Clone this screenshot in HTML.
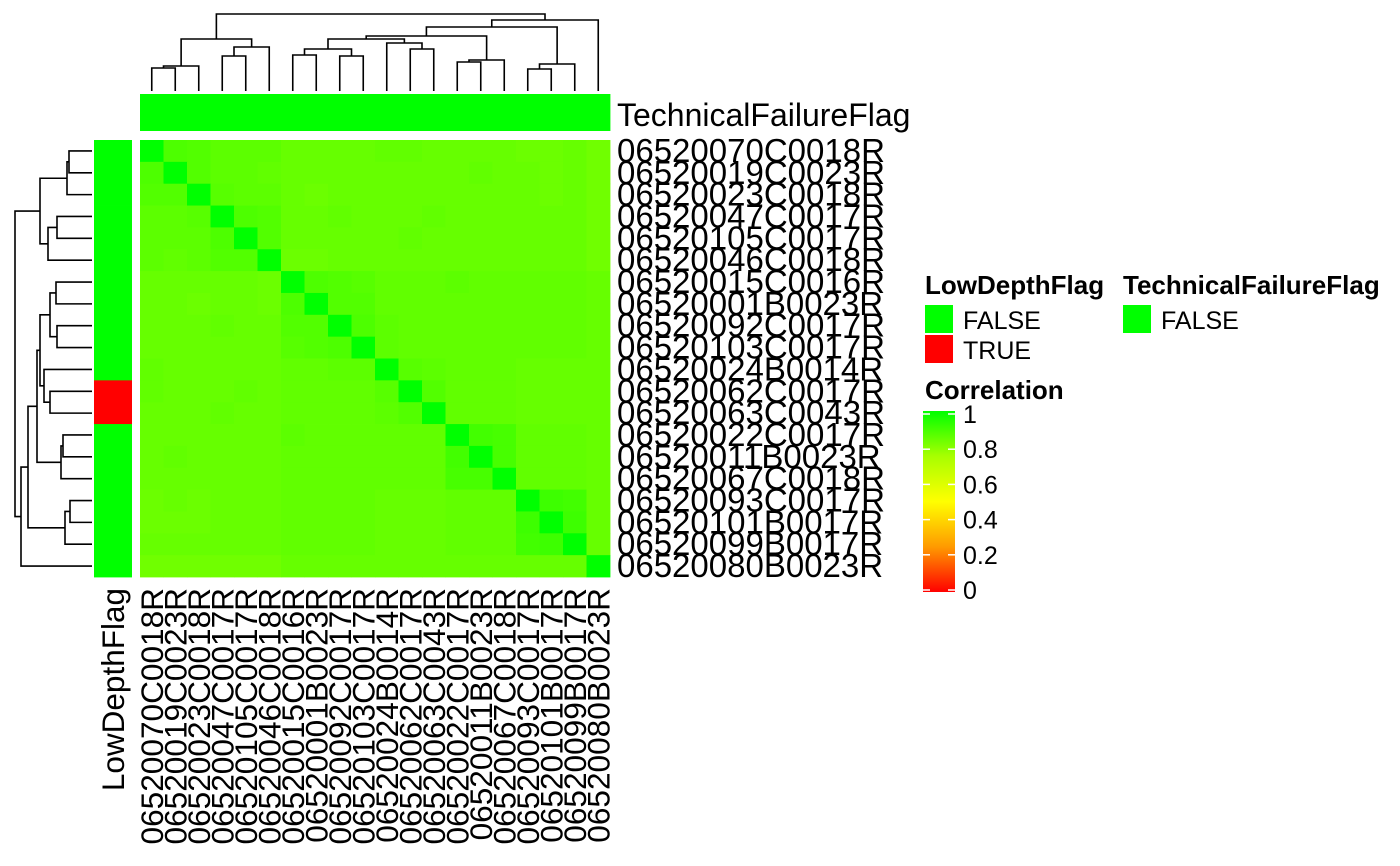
<!DOCTYPE html>
<html><head><meta charset="utf-8"><style>
html,body{margin:0;padding:0;background:#fff;}
svg{display:block;font-family:"Liberation Sans",Arial,sans-serif;}
</style></head><body>
<svg id="chart" width="1400" height="866" xmlns="http://www.w3.org/2000/svg">
<g id="cells"></g>
<g id="rowdend"></g>
<g id="coldend"></g>
<g id="annot"></g>
<g id="labels"></g>
<g id="legend">
  <text x="925" y="294" font-size="26" font-weight="bold">LowDepthFlag</text>
  <rect x="925" y="305" width="28" height="28" fill="#00ff00"/>
  <text x="963" y="329" font-size="25">FALSE</text>
  <rect x="925" y="335" width="28" height="28" fill="#ff0000"/>
  <text x="963" y="359" font-size="25">TRUE</text>
  <text x="1123" y="294" font-size="26" font-weight="bold">TechnicalFailureFlag</text>
  <rect x="1123" y="305" width="28" height="28" fill="#00ff00"/>
  <text x="1161" y="329" font-size="25">FALSE</text>
  <text x="925" y="399" font-size="26" font-weight="bold">Correlation</text>
  <defs><linearGradient id="cg" x1="0" y1="1" x2="0" y2="0">
    <stop offset="0" stop-color="#ff0000"/><stop offset="0.25" stop-color="#ff9a00"/>
    <stop offset="0.5" stop-color="#ffff00"/><stop offset="0.75" stop-color="#a8ff00"/>
    <stop offset="1" stop-color="#00ff00"/></linearGradient></defs>
  <rect x="923" y="411" width="32" height="181" fill="url(#cg)"/>
  <g id="cbticks"></g>
</g>
</svg>
<script>
const NS="http://www.w3.org/2000/svg";
const samples=["06520070C0018R","06520019C0023R","06520023C0018R","06520047C0017R","06520105C0017R","06520046C0018R","06520015C0016R","06520001B0023R","06520092C0017R","06520103C0017R","06520024B0014R","06520062C0017R","06520063C0043R","06520022C0017R","06520011B0023R","06520067C0018R","06520093C0017R","06520101B0017R","06520099B0017R","06520080B0023R"];
const lowDepth=[0,0,0,0,0,0,0,0,0,0,0,1,1,0,0,0,0,0,0,0];
const techFail=[0,0,0,0,0,0,0,0,0,0,0,0,0,0,0,0,0,0,0,0];
const corr=[
[100,85,84,82,82,82,80,80,80,80,81,81,80,80,80,80,79,79,80,78],
[85,100,84,82,82,81,80,80,80,80,80,80,80,80,81,80,80,79,80,78],
[84,84,100,83,82,82,80,79,80,80,80,80,80,80,80,80,80,79,80,78],
[82,82,83,100,85,84,80,80,81,80,80,80,81,80,80,80,80,80,80,78],
[82,82,82,85,100,84,80,80,80,80,80,81,80,80,80,80,80,80,80,78],
[82,81,82,84,84,100,79,79,80,80,80,80,80,80,80,80,80,80,80,78],
[80,80,80,80,80,79,100,85,84,83,81,81,81,82,81,81,81,81,81,80],
[80,80,79,80,80,79,85,100,84,84,81,81,81,81,81,81,81,81,81,80],
[80,80,80,81,80,80,84,84,100,85,82,81,81,81,81,81,81,81,81,80],
[80,80,80,80,80,80,83,84,85,100,82,81,81,81,81,81,81,81,81,80],
[81,80,80,80,80,80,81,81,82,82,100,83,82,81,81,81,80,80,80,80],
[81,80,80,80,81,80,81,81,81,81,83,100,84,81,81,81,80,80,80,80],
[80,80,80,81,80,80,81,81,81,81,82,84,100,81,81,81,80,80,80,80],
[80,80,80,80,80,80,82,81,81,81,81,81,81,100,87,86,81,81,81,80],
[80,81,80,80,80,80,81,81,81,81,81,81,81,87,100,86,81,81,81,80],
[80,80,80,80,80,80,81,81,81,81,81,81,81,86,86,100,81,81,81,80],
[79,80,79,80,80,80,81,81,81,81,80,80,80,81,81,81,100,88,87,80],
[79,79,79,80,80,80,81,81,81,81,80,80,80,81,81,81,88,100,88,80],
[80,80,80,80,80,80,81,81,81,81,80,80,80,81,81,81,87,88,100,80],
[78,78,78,78,78,78,80,80,80,80,80,80,80,80,80,80,80,80,80,100]];
const mergeLeft=[0,20,3,22,21,6,8,25,11,10,27,13,31,30,16,34,33,36,24];
const mergeRight=[1,2,4,5,23,7,9,26,12,28,29,14,15,32,17,18,35,19,37];
const mergeHeight=[23,25,35,44,52,36,35,42,42,48,52,29,31,55,22,27,64,71,77];
const cbTicks=[0,0.2,0.4,0.6,0.8,1];

const X0=140,X1=610,Y0=140,Y1=577,n=samples.length;
const cw=(X1-X0)/n,ch=(Y1-Y0)/n;
const xc=i=>X0+cw*(i+0.5), yc=i=>Y0+ch*(i+0.5);
function col(v){let r,g;if(v>=0.5){r=Math.round(510*(1-v));g=255;}else{r=255;g=Math.round(510*v);}return `rgb(${r},${g},0)`;}
function mk(tag,attrs,parent){const e=document.createElementNS(NS,tag);for(const k in attrs)e.setAttribute(k,attrs[k]);parent.appendChild(e);return e;}

const cells=document.getElementById('cells');
for(let i=0;i<n;i++)for(let j=0;j<n;j++){
  const r=mk('rect',{x:X0+cw*j,y:Y0+ch*i,width:cw+0.4,height:ch+0.4,fill:col(corr[i][j]/100)},cells);
  
  
}
const annot=document.getElementById('annot');
for(let j=0;j<n;j++){
  const r=mk('rect',{x:X0+cw*j,y:94,width:cw+0.4,height:37,fill:techFail[j]?'#ff0000':'#00ff00'},annot);
  
  
}
for(let i=0;i<n;i++){
  const r=mk('rect',{x:94,y:Y0+ch*i,width:38,height:ch+0.4,fill:lowDepth[i]?'#ff0000':'#00ff00'},annot);
  
  
}
function dend(g,horizontal){
  const leafEdge=horizontal?92:91;
  const pos=[],h=[];
  for(let i=0;i<n;i++){pos[i]=horizontal?yc(i):xc(i);h[i]=0;}
  for(let k=0;k<mergeLeft.length;k++){
    const a=mergeLeft[k],b=mergeRight[k],H=mergeHeight[k],id=n+k;
    const d=leafEdge-H,da=leafEdge-h[a],db=leafEdge-h[b];
    let p;
    if(horizontal)p=`M${da},${pos[a]}H${d}V${pos[b]}H${db}`;
    else p=`M${pos[a]},${da}V${d}H${pos[b]}V${db}`;
    const e=mk('path',{d:p,fill:'none',stroke:'#000','stroke-width':1.6},g);
    
    
    pos[id]=(pos[a]+pos[b])/2;h[id]=H;
  }
}
dend(document.getElementById('rowdend'),true);
dend(document.getElementById('coldend'),false);
const lab=document.getElementById('labels');
for(let i=0;i<n;i++){
  const t=mk('text',{x:617,y:yc(i)+11,'font-size':33},lab);
  t.textContent=samples[i];
  
  
  const c=mk('text',{x:0,y:0,'font-size':31.6,'text-anchor':'end',transform:`translate(${xc(i)+11},588) rotate(-90)`},lab);
  c.textContent=samples[i];
  
  
}
const t1=mk('text',{x:617,y:126,'font-size':32},lab);
t1.textContent='TechnicalFailureFlag';


const t2=mk('text',{x:0,y:0,'font-size':31.5,'text-anchor':'end',transform:'translate(124,588) rotate(-90)'},lab);
t2.textContent='LowDepthFlag';


const cb=document.getElementById('cbticks');
const cy=v=>590-v*176;
cbTicks.forEach(v=>{
  const l1=mk('line',{x1:923,x2:930,y1:cy(v),y2:cy(v),stroke:'#fff','stroke-width':1.5},cb);
  
  
  const l2=mk('line',{x1:948,x2:955,y1:cy(v),y2:cy(v),stroke:'#fff','stroke-width':1.5},cb);
  
  
  const tx=mk('text',{x:963,y:cy(v)+9,'font-size':25},cb);
  tx.textContent=String(v);
  
  
});
</script>
</body></html>
